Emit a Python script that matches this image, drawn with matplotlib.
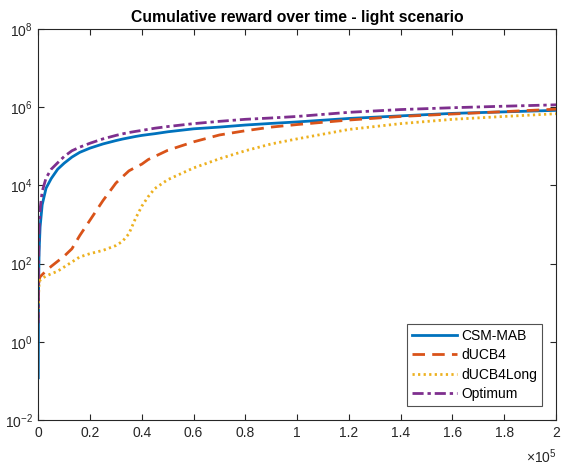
import matplotlib
matplotlib.use("Agg")
import matplotlib.pyplot as plt
import numpy as np

plt.rcParams['font.family'] = ['Liberation Sans', 'DejaVu Sans']
plt.rcParams['mathtext.fontset'] = 'custom'
plt.rcParams['mathtext.rm'] = 'Liberation Sans'
plt.rcParams['mathtext.it'] = 'Liberation Sans'

# time steps
t = [0, 100, 300, 700, 1500, 3000, 5000, 7500, 10000, 13000, 16000, 20000,
     25000, 30000, 32500, 35000, 37500, 40000, 42500, 45000, 50000, 60000,
     70000, 80000, 90000, 100000, 120000, 140000, 160000, 180000, 200000]

csm_mab = [0.12, 20, 200, 870, 3200, 8500, 1.5e4, 2.6e4, 3.7e4, 5.3e4, 7.0e4, 9.0e4,
           1.15e5, 1.4e5, 1.53e5, 1.65e5, 1.78e5, 1.9e5, 2.0e5, 2.1e5, 2.35e5, 2.8e5,
           3.1e5, 3.5e5, 3.85e5, 4.2e5, 5.15e5, 6.0e5, 6.95e5, 7.6e5, 8.3e5]

ducb4 = [10, 25, 38, 46, 52, 65, 85, 115, 155, 240, 520, 1300,
         4100, 1.15e4, 1.65e4, 2.35e4, 2.9e4, 3.5e4, 4.6e4, 5.5e4, 7.9e4, 1.3e5,
         1.95e5, 2.5e5, 3.1e5, 3.6e5, 4.7e5, 5.8e5, 6.7e5, 7.7e5, 8.9e5]

ducb4long = [3.6, 15, 30, 38, 42, 48, 55, 64, 82, 110, 148, 180,
             218, 290, 370, 580, 1400, 2950, 5200, 8300, 1.4e4, 2.8e4,
             4.8e4, 7.7e4, 1.15e5, 1.55e5, 2.7e5, 3.8e5, 4.9e5, 5.8e5, 6.8e5]

optimum = [3, 80, 700, 2500, 7000, 1.55e4, 2.6e4, 3.8e4, 5.5e4, 7.7e4, 9.5e4, 1.2e5,
           1.55e5, 1.9e5, 2.08e5, 2.25e5, 2.4e5, 2.55e5, 2.72e5, 2.9e5, 3.2e5, 3.8e5,
           4.35e5, 4.9e5, 5.3e5, 5.8e5, 7.4e5, 8.7e5, 9.7e5, 1.06e6, 1.15e6]

series_names = ['CSM-MAB', 'dUCB4', 'dUCB4Long', 'Optimum']
x_tick_labels = ['0', '0.2', '0.4', '0.6', '0.8', '1', '1.2', '1.4', '1.6', '1.8', '2']

fig = plt.figure(figsize=(5.61, 4.72), dpi=100)
ax = fig.add_axes([38.3/561, 1-420/472, (556-38.3)/561, (420-29)/472])

ax.plot(t, csm_mab, color='#0072BD', lw=2.0, label=series_names[0])
ax.plot(t, ducb4, color='#D95319', lw=2.0, dashes=(4.5, 2.6), label=series_names[1])
ax.plot(t, ducb4long, color='#EDB120', lw=2.0, dashes=(0.8, 1.2), label=series_names[2])
ax.plot(t, optimum, color='#7E2F8E', lw=2.0, dashes=(4.0, 1.4, 1.2, 1.4), label=series_names[3])

ax.set_yscale('log')
ax.set_ylim(1e-2, 1e8)
ax.set_xlim(0, 2e5)
ax.set_yticks([1e-2, 1e0, 1e2, 1e4, 1e6, 1e8])
ax.yaxis.set_minor_locator(matplotlib.ticker.NullLocator())
ax.set_xticks(np.linspace(0, 2e5, 11))
ax.set_xticklabels(x_tick_labels)

axcol = '#262626'
for s in ax.spines.values():
    s.set_color(axcol)
    s.set_linewidth(0.8)
ax.tick_params(direction='in', top=True, right=True, length=4, width=0.8,
               colors=axcol, labelsize=10, pad=4)

ax.set_title('Cumulative reward over time - light scenario', fontsize=11.3,
             fontweight='bold', color='black', pad=5)

fig.text(541/561, 1-457/472, r'$\times 10^5$', fontsize=10, color=axcol,
         ha='center', va='center')

leg = ax.legend(loc='lower right', fontsize=10, frameon=True, fancybox=False,
                edgecolor=axcol, handlelength=3.2, handletextpad=0.3,
                borderpad=0.38, labelspacing=0.38, borderaxespad=1.0)
leg.get_frame().set_linewidth(0.8)

fig.savefig('out.png', dpi=100)
